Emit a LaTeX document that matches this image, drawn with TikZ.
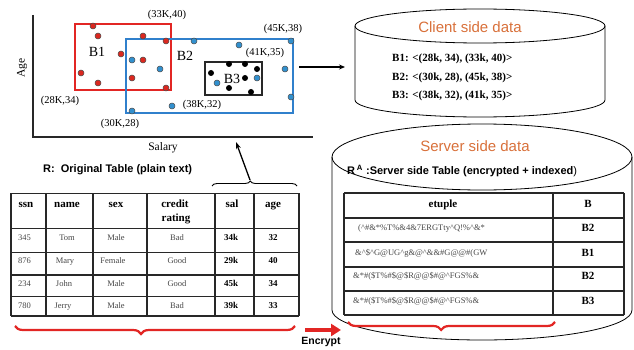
\documentclass[tikz,border=0pt]{standalone}
\usepackage{fontspec}
\setmainfont{Liberation Serif}
\newfontfamily\arialfont{Liberation Sans}
\usetikzlibrary{arrows.meta,decorations.pathreplacing}

\definecolor{boxred}{RGB}{226,38,36}
\definecolor{boxblue}{RGB}{48,128,204}
\definecolor{dotred}{RGB}{218,40,32}
\definecolor{dotblue}{RGB}{50,144,206}
\definecolor{headorange}{RGB}{216,112,58}
\definecolor{cellgray}{RGB}{70,70,70}
\definecolor{linegray}{RGB}{40,40,40}

\newcommand\ca{\textasciicircum}

\begin{document}
\begin{tikzpicture}[x=1pt,y=-1pt,
  tline/.style={line width=1.4pt, draw=linegray},
  cyl/.style={line width=0.8pt, draw=black},
  rdot/.style={draw=black!70, fill=dotred, line width=0.5pt},
  bdot/.style={draw=black!70, fill=dotblue, line width=0.5pt},
  kdot/.style={fill=black},
  coordlbl/.style={font=\fontsize{10.5}{12}\selectfont, inner sep=0pt},
  boxlbl/.style={font=\fontsize{14}{16}\selectfont, inner sep=0pt},
  axislbl/.style={font=\fontsize{11.5}{13}\selectfont, inner sep=0pt},
  hdr/.style={font=\fontsize{11}{13}\selectfont\bfseries, inner sep=0pt, anchor=base},
  cell/.style={font=\fontsize{8.5}{10}\selectfont, text=cellgray, inner sep=0pt, anchor=base},
  bcell/.style={font=\fontsize{9}{10}\selectfont\bfseries, inner sep=0pt, anchor=base},
  enc/.style={font=\fontsize{8.5}{10}\selectfont, text=cellgray, inner sep=0pt, anchor=base west},
  bcol/.style={font=\fontsize{11}{13}\selectfont\bfseries, inner sep=0pt, anchor=base},
  cline/.style={font=\fontsize{11}{13}\selectfont\bfseries, inner sep=0pt, anchor=base west},
  dbtitle/.style={font=\arialfont\fontsize{15}{17}\selectfont, text=headorange, inner sep=0pt, anchor=base},
  sanstitle/.style={font=\arialfont\fontsize{11}{13}\selectfont\bfseries, inner sep=0pt, anchor=base west},
  redbrace/.style={draw=boxred, line width=2.2pt, decorate,
    decoration={brace, mirror, amplitude=8pt, aspect=0.45}},
]
\useasboundingbox (0,0) rectangle (634,350);

% ---------- scatter plot of salary against age ----------
\draw[line width=1.1pt, draw=linegray] (33,15) -- (33,137) -- (313,137);
\node[axislbl, rotate=90] (agelbl) at (22,68) {Age};
\node[axislbl, anchor=base] (sallbl) at (163,150) {Salary};

\draw[boxred, line width=1.1pt] (75,24) rectangle (171,90);
\draw[boxblue, line width=1.1pt] (126,39) rectangle (293,113);
\draw[linegray, line width=1.1pt] (205,62) rectangle (262,95);

\foreach \p in {(93,26),(98,36),(143,36),(166,41),(121,54),(143,60),(81,73),(98,83),(132,78),(166,88)}
  \filldraw[rdot] \p circle[radius=3pt];
\foreach \p in {(194,41),(239,45),(291,41),(132,60),(160,69),(285,69),(257,78),(217,83),(291,97),(172,106),(132,111)}
  \filldraw[bdot] \p circle[radius=3pt];
\foreach \p in {(229,64),(245,64),(257,69),(211,73),(245,78),(229,88),(251,92)}
  \fill[kdot] \p circle[radius=3pt];

\node[boxlbl] (lblB1) at (97,52) {B1};
\node[boxlbl] (lblB2) at (185,56) {B2};
\node[boxlbl] (lblB3) at (232,79) {B3};

\node[coordlbl] (c3340) at (167,15) {(33K,40)};
\node[coordlbl] (c4538) at (283,29) {(45K,38)};
\node[coordlbl] (c4135) at (265,53) {(41K,35)};
\node[coordlbl] (c2834) at (60,101) {(28K,34)};
\node[coordlbl] (c3832) at (202,105) {(38K,32)};
\node[coordlbl] (c3028) at (120,124) {(30K,28)};

% ---------- client side cylinder ----------
\draw[cyl] (355,26) -- (355,100) arc[start angle=180, end angle=360, x radius=125pt, y radius=17pt] -- (605,26);
\draw[cyl] (480,26) ellipse[x radius=125pt, y radius=17pt];
\node[dbtitle] (clititle) at (470,33) {Client side data};
\node[cline] (cliB1) at (392,62) {B1: <(28k, 34), (33k, 40)>};
\node[cline] (cliB2) at (392,81) {B2: <(30k, 28), (45k, 38)>};
\node[cline] (cliB3) at (392,99) {B3: <(38k, 32), (41k, 35)>};

\coordinate (plotR) at (299,67);
\coordinate (cliL) at (345,67);
\draw[line width=1.1pt, -{Stealth[length=6pt,width=5pt]}] (plotR) -- (cliL);

% ---------- server side cylinder ----------
\draw[cyl] (332,157) -- (332,310) arc[start angle=180, end angle=360, x radius=150pt, y radius=30pt] -- (632,157);
\draw[cyl] (482,157) ellipse[x radius=150pt, y radius=33pt];
\node[dbtitle] (srvtitle) at (475,151) {Server side data};
\node[sanstitle] (srvcap) at (347,174) {R\,\textsuperscript{A} :Server side Table (encrypted + indexed\mdseries)};

% encrypted table
\foreach \x in {344,553,624} \draw[tline] (\x,193) -- (\x,315);
\foreach \y in {193,218,242,267,291,315} \draw[tline] (344,\y) -- (624,\y);
\node[bcol] (hEt) at (443,207) {etuple};
\node[bcol] (hB) at (588,207) {B};
\node[enc] (e1) at (358,230) {(\ca\#\&*\%T\%\&4\&7ERGTty\ca Q!\%\ca\&*};
\node[enc] (e2) at (355,255) {\&\ca\$\ca G@UG\ca g\&@\ca\&\&\#G@@\#(GW};
\node[enc] (e3) at (353,278) {\&*\#(\$T\%\#\$@\$R@@\$\#@\ca FGS\%\&};
\node[enc] (e4) at (353,303) {\&*\#(\$T\%\#\$@\$R@@\$\#@\ca FGS\%\&};
\node[bcol] (b1) at (588,231) {B2};
\node[bcol] (b2) at (588,256) {B1};
\node[bcol] (b3) at (588,279) {B2};
\node[bcol] (b4) at (588,304) {B3};
\draw[redbrace] (348,322) -- (555,322);

% ---------- original table ----------
\node[sanstitle] (origtitle) at (43,172) {R:\ \ Original Table (plain text)};
\foreach \x in {11,46,93,147,215,254,299} \draw[tline] (\x,193.3) -- (\x,316);
\foreach \y in {193.3,228.3,252.7,275,296.7,316} \draw[tline] (11,\y) -- (299,\y);

\node[hdr] (hssn) at (26,207) {ssn};
\node[hdr] (hname) at (67,207) {name};
\node[hdr] (hsex) at (116,207) {sex};
\node[hdr] (hcred) at (175,207) {credit};
\node[hdr] (hrat) at (176,221) {rating};
\node[hdr] (hsal) at (232,207) {sal};
\node[hdr] (hage) at (273,207) {age};

\foreach \yy/\ssn/\nm/\sx/\cr/\sal/\age/\nx/\sxx in
  {240/345/Tom/Male/Bad/34k/32/67/116,
   263/876/Mary/Female/Good/29k/40/65/113,
   286/234/John/Male/Good/45k/34/64/116,
   308/780/Jerry/Male/Bad/39k/33/63/116}{
  \node[cell] (ssn\ssn) at (24.5,\yy) {\ssn};
  \node[cell] (nm\ssn) at (\nx,\yy) {\nm};
  \node[cell] (sx\ssn) at (\sxx,\yy) {\sx};
  \node[cell] (cr\ssn) at (177,\yy) {\cr};
  \node[bcell] (sal\ssn) at (231,\yy) {\sal};
  \node[bcell] (age\ssn) at (273,\yy) {\age};
}

\draw[redbrace] (15,326) -- (295,326);

% brace over the salary and age columns, pointing back to the plot
\draw[line width=0.9pt, decorate, decoration={brace, amplitude=5pt, aspect=0.45}] (212,186) -- (297,186);
\coordinate (braceTip) at (250,180);
\coordinate (plotAxis) at (236,142);
\draw[line width=1.3pt, -{Stealth[length=7pt,width=5pt]}] (braceTip) -- (plotAxis);

% ---------- encryption step ----------
\coordinate (encA) at (305,330);
\coordinate (encB) at (341,330);
\draw[draw=boxred, line width=4pt, -{Triangle[length=10pt,width=12pt]}] (encA) -- (encB);
\node[font=\arialfont\fontsize{10.5}{12}\selectfont\bfseries, inner sep=0pt, anchor=base] (enclbl) at (321,344) {Encrypt};
\end{tikzpicture}
\end{document}
